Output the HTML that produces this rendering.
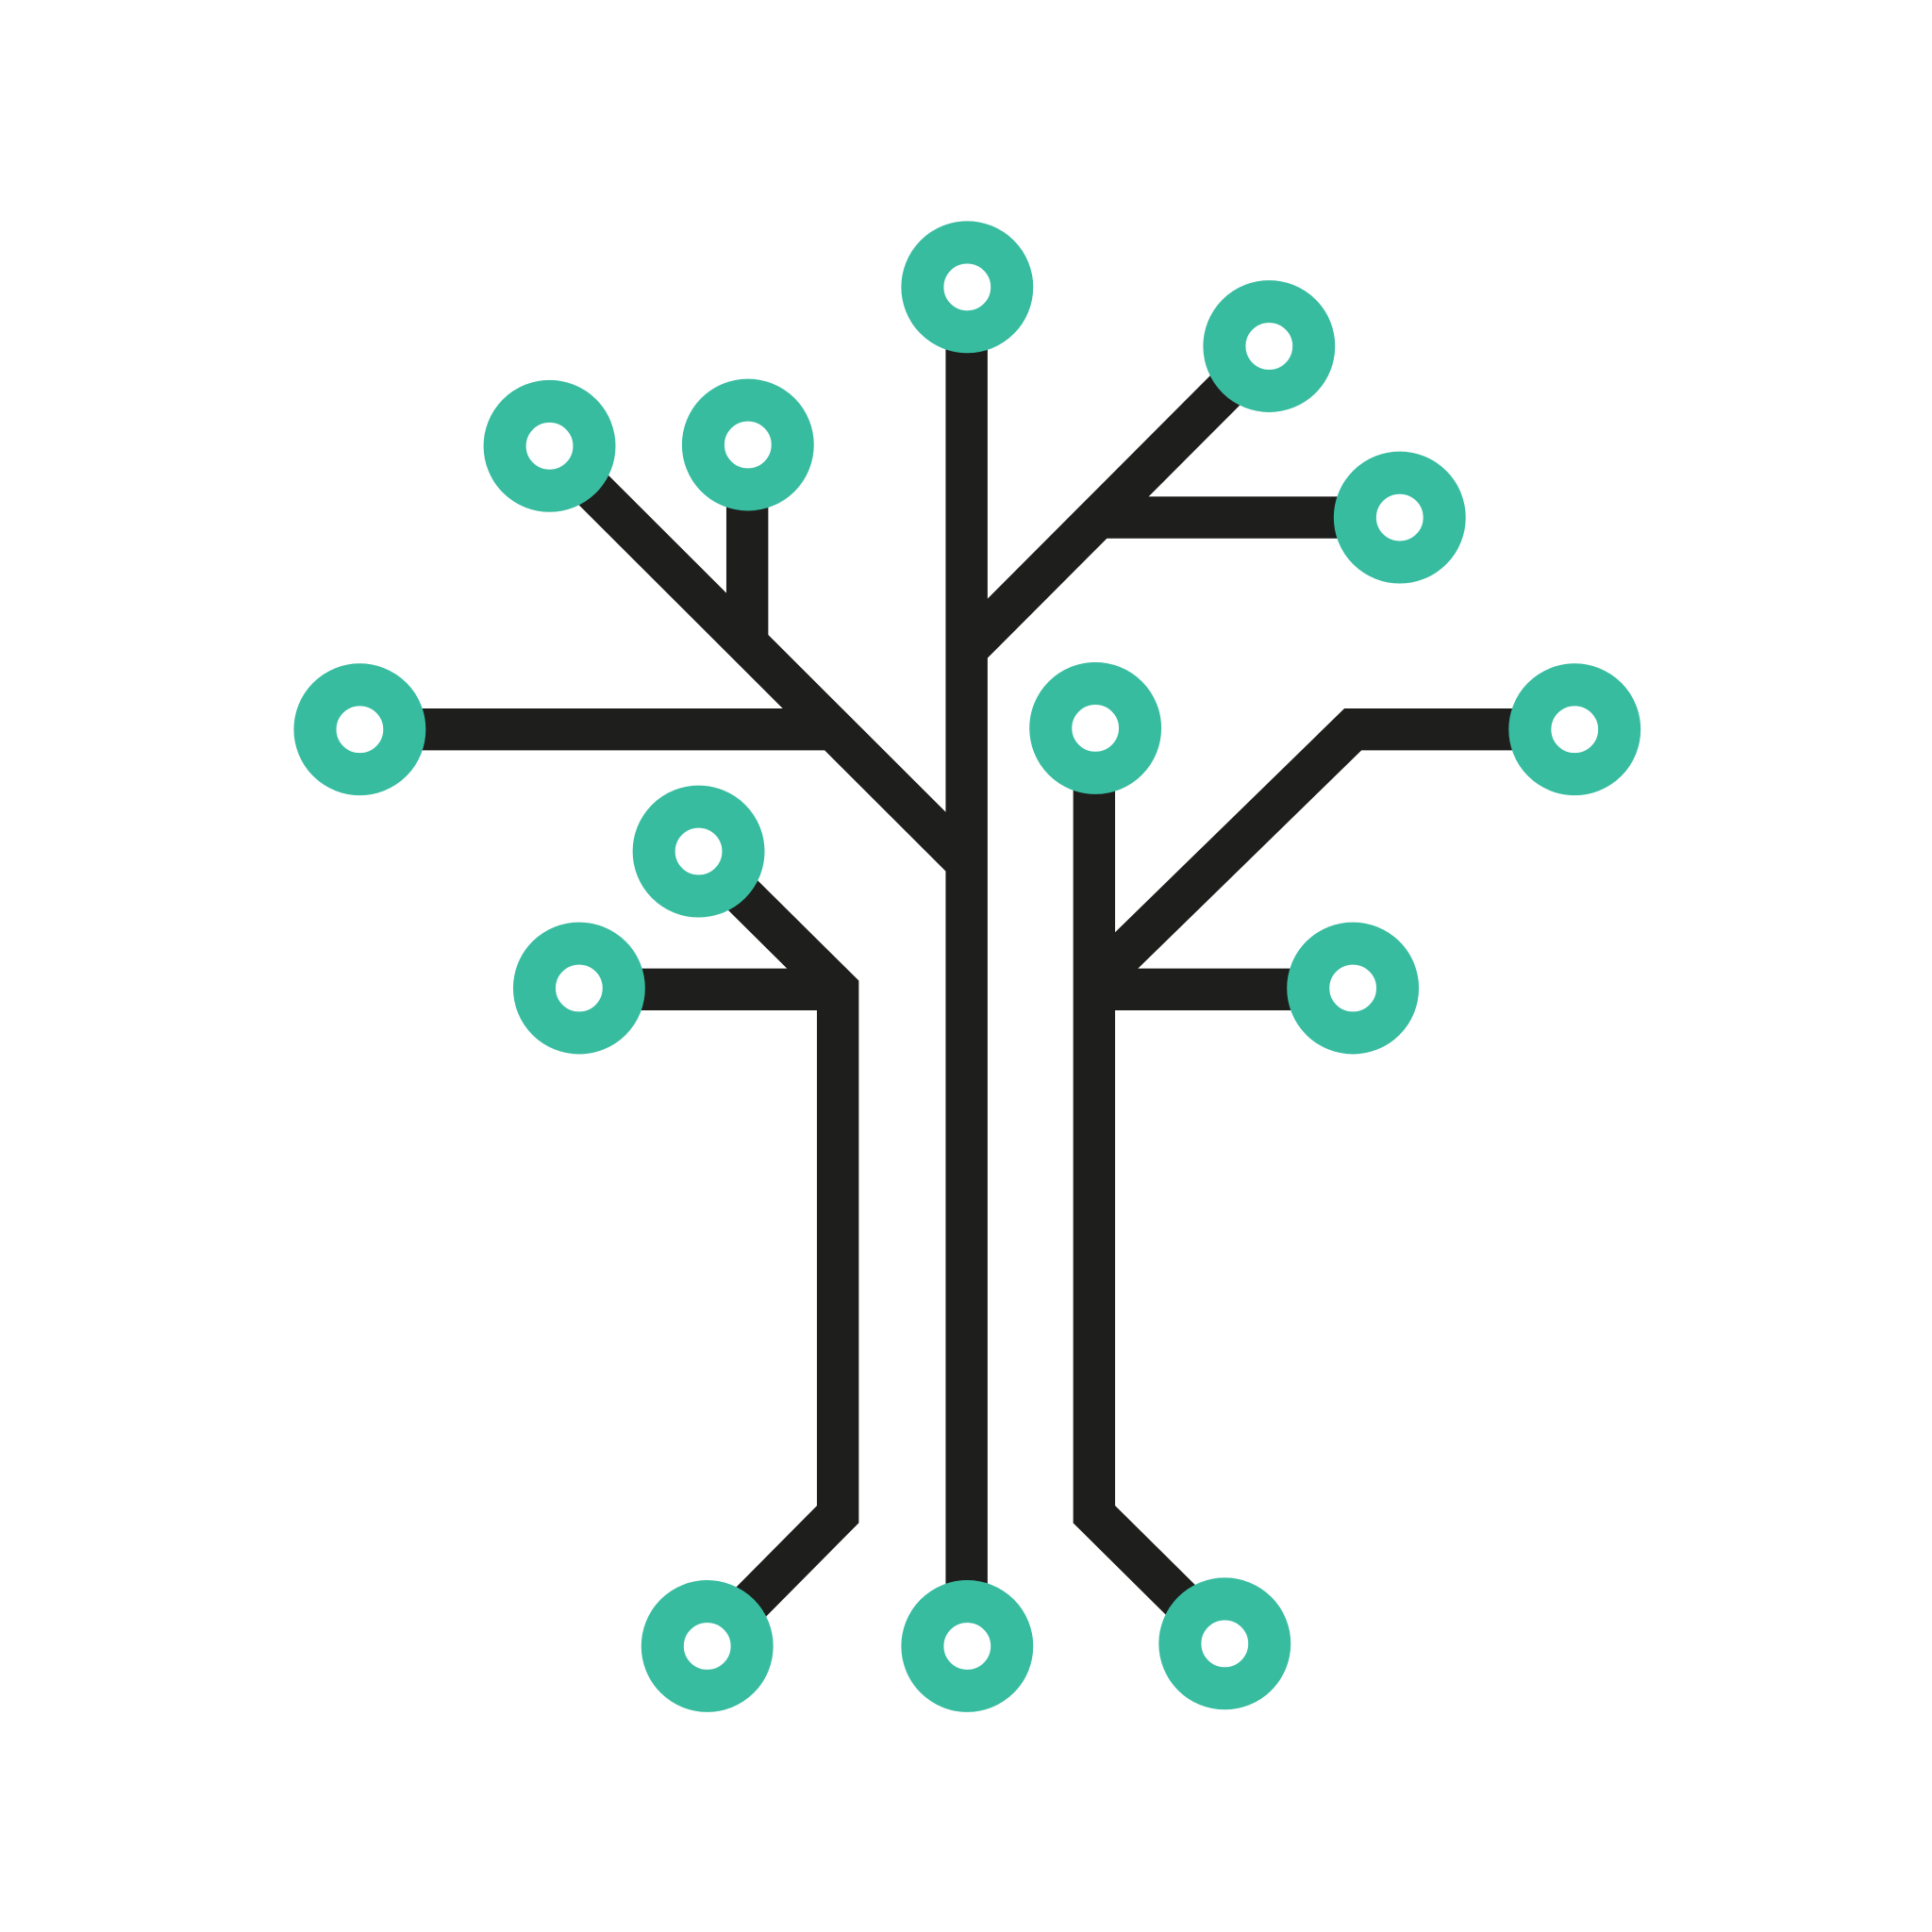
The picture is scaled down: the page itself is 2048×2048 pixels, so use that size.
<!DOCTYPE html>
<html><head><meta charset="utf-8"><style>html,body{margin:0;padding:0;background:#fff}svg{display:block}</style></head>
<body>
<svg width="2048" height="2048" viewBox="0 0 1568 1568" xmlns="http://www.w3.org/2000/svg">
<g fill="none" stroke="#1e1e1c" stroke-width="34" stroke-linejoin="miter" stroke-linecap="butt">
<path d="M784.5 233 V1336"/>
<path d="M784.5 527 L1030 281"/>
<path d="M886 420 H1136"/>
<path d="M446 362 L784.5 700"/>
<path d="M292 592 H675"/>
<path d="M606.5 361 V525"/>
<path d="M567 691 L680 803 V1229 L574 1336"/>
<path d="M470 803 H680"/>
<path d="M888 591 V1229 L994 1334"/>
<path d="M888 797 L1098 592 H1278"/>
<path d="M888 803 H1098"/>
</g>
<g fill="none" stroke="#38bca0" stroke-width="34.5">
<circle cx="785" cy="233" r="36.3" fill="#fff"/>
<circle cx="1030" cy="281" r="36.3" fill="#fff"/>
<circle cx="1136" cy="420" r="36.3" fill="#fff"/>
<circle cx="446" cy="362" r="36.3" fill="#fff"/>
<circle cx="607" cy="361" r="36.3" fill="#fff"/>
<circle cx="292" cy="592" r="36.3" fill="#fff"/>
<circle cx="889" cy="591" r="36.3" fill="#fff"/>
<circle cx="1278" cy="592" r="36.3" fill="#fff"/>
<circle cx="567" cy="691" r="36.3" fill="#fff"/>
<circle cx="470" cy="802" r="36.3" fill="#fff"/>
<circle cx="1098" cy="802" r="36.3" fill="#fff"/>
<circle cx="574" cy="1336" r="36.3" fill="#fff"/>
<circle cx="785" cy="1336" r="36.3" fill="#fff"/>
<circle cx="994" cy="1334" r="36.3" fill="#fff"/>
</g>
</svg>
</body></html>
